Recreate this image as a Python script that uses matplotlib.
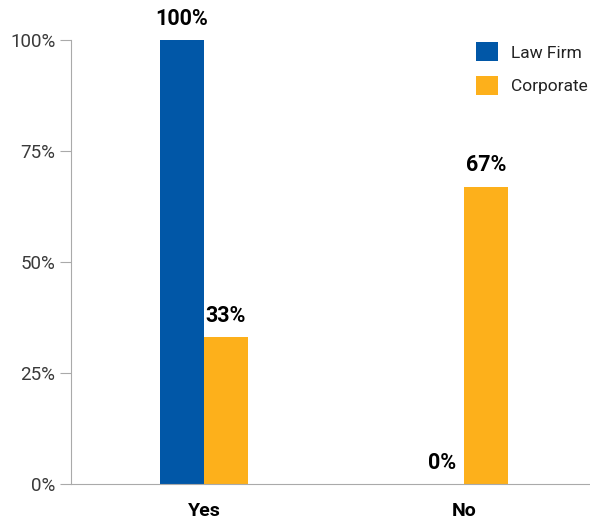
import matplotlib.pyplot as plt
import numpy as np

categories = ['Yes', 'No']
law_firm = [100, 0]
corporate = [33, 67]
yticks = [0, 25, 50, 75, 100]

plt.rcParams['font.family'] = ['Roboto', 'DejaVu Sans']

blue = '#0157a7'
orange = '#fdb01b'

fig = plt.figure(figsize=(5.9, 5.24), dpi=100)
ax = fig.add_axes([0.12, 0.0763, 0.88, 0.8474])

x = np.arange(len(categories))
w = 0.169
b1 = ax.bar(x - w / 2, law_firm, w, color=blue, label='Law Firm')
b2 = ax.bar(x + w / 2, corporate, w, color=orange, label='Corporate')

for bars, vals in [(b1, law_firm), (b2, corporate)]:
    for rect, v in zip(bars, vals):
        ax.text(rect.get_x() + rect.get_width() / 2, v + 2.3, f'{v}%',
                ha='center', va='bottom', fontsize=15.5, fontweight='bold')

ax.set_xlim(-0.512, 1.485)
ax.set_ylim(0, 100)
ax.set_yticks(yticks)
ax.set_yticklabels([f'{t}%' for t in yticks], fontsize=13.5, color='#3a3a3a')
ax.set_xticks(x)
ax.set_xticklabels(categories, fontsize=14, fontweight='bold')
ax.tick_params(axis='x', length=0, pad=13)
ax.tick_params(axis='y', length=8, color='#aaaaaa', pad=3)

for s in ['top', 'right']:
    ax.spines[s].set_visible(False)
for s in ['left', 'bottom']:
    ax.spines[s].set_color('#aaaaaa')

ax.legend(loc='upper right', bbox_to_anchor=(1.025, 1.03), frameon=False,
          fontsize=12.5, handlelength=1.3, handleheight=1.3,
          labelspacing=0.85, handletextpad=0.7, labelcolor='#222222')

fig.savefig('out.png', dpi=100)
